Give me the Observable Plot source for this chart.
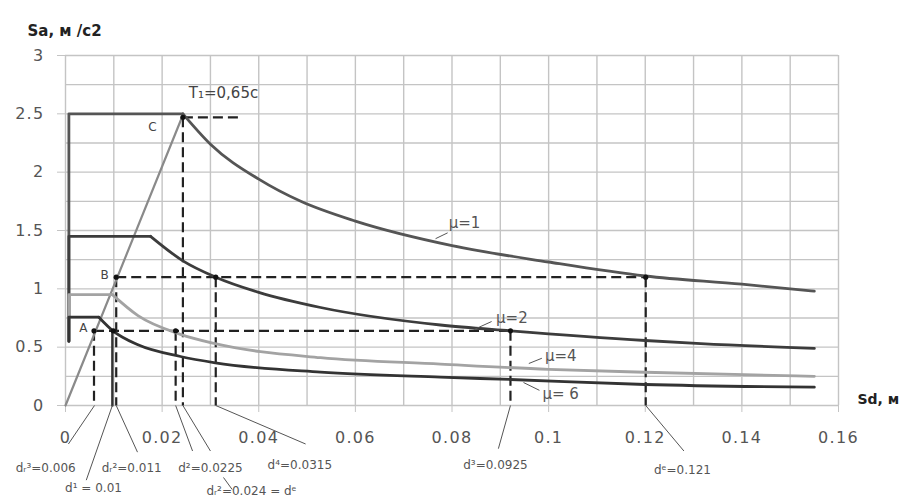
<!DOCTYPE html>
<html>
<head>
<meta charset="utf-8">
<script src="https://cdn.jsdelivr.net/npm/d3@7"></script>
<script src="https://cdn.jsdelivr.net/npm/@observablehq/plot@0.6"></script>
<style>
  html, body { margin: 0; padding: 0; background: #fff; }
  svg { display: block; }
  g[aria-label="x-axis tick label"] text, g[aria-label="y-axis tick label"] text { letter-spacing: 1.3px; }
  g[aria-label="ann"] text { letter-spacing: 0.9px; }
  g[aria-label="mu"] text, g[aria-label="tlabel"] text { letter-spacing: 0.8px; }
  g[aria-label="ytitle"] text { letter-spacing: 1.3px; }
</style>
</head>
<body>
<div id="chart"></div>
<script>
// ---- tick labels / grid ----
const xTicks = [0, 0.02, 0.04, 0.06, 0.08, 0.1, 0.12, 0.14, 0.16];
const yTicks = [0, 0.5, 1, 1.5, 2, 2.5, 3];
const gridX = [0, 0.01, 0.02, 0.03, 0.04, 0.05, 0.06, 0.07, 0.08, 0.09, 0.1, 0.11, 0.12, 0.13, 0.14, 0.15, 0.16];
const gridY = [0, 0.25, 0.5, 0.75, 1, 1.25, 1.5, 1.75, 2, 2.25, 2.5, 2.75, 3];

// ---- capacity curves (Sd, m ; Sa, m/s2); first 3 points = rise + plateau ----
const mu1Sd = [0.0007, 0.0007, 0.0243, 0.03, 0.04, 0.0487, 0.06, 0.08, 0.1, 0.12, 0.14, 0.155];
const mu1Sa = [0.55, 2.5, 2.5, 2.24, 1.94, 1.75, 1.58, 1.37, 1.23, 1.11, 1.04, 0.98];
const mu2Sd = [0.0007, 0.0007, 0.0176, 0.0243, 0.0311, 0.04, 0.0528, 0.0776, 0.0921, 0.12, 0.1315, 0.155];
const mu2Sa = [0.55, 1.45, 1.45, 1.24, 1.1, 0.97, 0.84, 0.69, 0.64, 0.557, 0.53, 0.49];
const mu4Sd = [0.0007, 0.0007, 0.0097, 0.015, 0.0238, 0.031, 0.0528, 0.0776, 0.1, 0.12, 0.155];
const mu4Sa = [0.55, 0.95, 0.95, 0.77, 0.61, 0.53, 0.41, 0.355, 0.31, 0.285, 0.25];
const mu6Sd = [0.0007, 0.0007, 0.0069, 0.0099, 0.015, 0.0238, 0.031, 0.0528, 0.0776, 0.0921, 0.12, 0.155];
const mu6Sa = [0.55, 0.757, 0.757, 0.637, 0.52, 0.42, 0.366, 0.286, 0.243, 0.223, 0.18, 0.157];

// period line T1 = 0.65 s
const periodSd = [0, 0.0243];
const periodSa = [0, 2.49];

// ---- characteristic points ----
const ptSd = [0.0243, 0.0105, 0.0311, 0.1201, 0.0059, 0.0099, 0.0228, 0.0921];
const ptSa = [2.47, 1.1, 1.1, 1.1, 0.64, 0.64, 0.64, 0.64];

// dashed construction lines
const dashFromSd = [0.0243, 0.0243, 0.0105, 0.0105, 0.0311, 0.1201, 0.0059, 0.0059, 0.0228, 0.0921];
const dashFromSa = [2.47, 2.47, 1.1, 1.1, 1.1, 1.1, 0.64, 0.64, 0.64, 0.64];
const dashToSd   = [0.0363, 0.0243, 0.1201, 0.0105, 0.0311, 0.1201, 0.0921, 0.0059, 0.0228, 0.0921];
const dashToSa   = [2.47, 0, 1.1, 0, 0, 0, 0.64, 0, 0, 0];

// solid drop line d1
const solidSd = [0.0097, 0.0097];
const solidSa = [0.637, 0];

// bottom annotations
const annText = ["dᵣ³=0.006", "d¹ = 0.01", "dᵣ²=0.011", "d²=0.0225", "dᵣ²=0.024 = dᵉ", "d⁴=0.0315", "d³=0.0925", "dᵉ=0.121"];
const annSd   = [0.006, 0.0097, 0.0105, 0.0228, 0.0243, 0.0311, 0.0921, 0.1201];
const annLabelX = [-0.0041, 0.0058, 0.0137, 0.0300, 0.0385, 0.0485, 0.0890, 0.1277];
const annLabelY = [-0.54, -0.71, -0.54, -0.54, -0.73, -0.51, -0.51, -0.55];
const annLeadX  = [0.0006, 0.0043, 0.0149, 0.0263, 0.0300, 0.0497, 0.0896, 0.1280];
const annLeadY  = [-0.33, -0.64, -0.40, -0.39, -0.39, -0.33, -0.37, -0.39];

// curve labels
const muText = ["μ=1", "μ=2", "μ=4", "μ= 6"];
const muLabelX = [0.0826, 0.0924, 0.1025, 0.1025];
const muLabelY = [1.56, 0.75, 0.42, 0.094];
const muLeadX1 = [0.0766, 0.0845, 0.0959, 0.0948];
const muLeadY1 = [1.43, 0.65, 0.36, 0.197];
const muLeadX2 = [0.0791, 0.0882, 0.0986, 0.0981];
const muLeadY2 = [1.48, 0.72, 0.405, 0.13];

// ---- build tables ----
const toPts = (xs, ys) => xs.map((x, i) => ({x, y: ys[i]}));
const curves = [
  {pts: toPts(mu1Sd, mu1Sa), color: "#555555"},
  {pts: toPts(mu2Sd, mu2Sa), color: "#3c3c3c"},
  {pts: toPts(mu4Sd, mu4Sa), color: "#a3a3a3"},
  {pts: toPts(mu6Sd, mu6Sa), color: "#333333"}
];
const points = ptSd.map((x, i) => ({x, y: ptSa[i]}));
const dashes = dashFromSd.map((x1, i) => ({x1, y1: dashFromSa[i], x2: dashToSd[i], y2: dashToSa[i]}));
const annots = annText.map((t, i) => ({t, x0: annSd[i], lx: annLabelX[i], ly: annLabelY[i], ex: annLeadX[i], ey: annLeadY[i]}));
const muLabels = muText.map((t, i) => ({t, x: muLabelX[i], y: muLabelY[i], x1: muLeadX1[i], y1: muLeadY1[i], x2: muLeadX2[i], y2: muLeadY2[i]}));
const extraLead = [{x1: 0.0327, y1: -0.617, x2: 0.0345, y2: -0.72}];

const curveMarks = curves.flatMap(c => [
  Plot.line(c.pts.slice(0, 3), {x: "x", y: "y", stroke: c.color, strokeWidth: 2.8}),
  Plot.line(c.pts.slice(2), {x: "x", y: "y", stroke: c.color, strokeWidth: 2.8, curve: "monotone-x"})
]);

const chart = Plot.plot({
  width: 909,
  height: 499,
  marginLeft: 65,
  marginRight: 71,
  marginTop: 55,
  marginBottom: 94,
  x: {domain: [0, 0.16]},
  y: {domain: [0, 3]},
  style: {fontFamily: "'DejaVu Sans', sans-serif", background: "#fff", overflow: "visible"},
  marks: [
    Plot.ruleX(gridX, {stroke: "#c4c4c4", strokeWidth: 1.4}),
    Plot.ruleY(gridY, {stroke: "#c4c4c4", strokeWidth: 1.4}),
    Plot.axisX(xTicks, {tickSize: 7, tickPadding: 19, stroke: "#c4c4c4", fill: "#555", fontSize: 16, tickFormat: d => String(d), label: null}),
    Plot.axisY(yTicks, {tickSize: 8, tickPadding: 13, stroke: "#c4c4c4", fill: "#555", fontSize: 16, tickFormat: d => String(d), label: null}),
    // construction lines
    Plot.link(dashes, {x1: "x1", y1: "y1", x2: "x2", y2: "y2", stroke: "#222", strokeWidth: 2.2, strokeDasharray: "10,5"}),
    Plot.line(toPts(solidSd, solidSa), {x: "x", y: "y", stroke: "#333", strokeWidth: 2.4}),
    // period line
    Plot.line(toPts(periodSd, periodSa), {x: "x", y: "y", stroke: "#8a8a8a", strokeWidth: 2.2}),
    // capacity curves
    ...curveMarks,
    Plot.dot(points, {x: "x", y: "y", r: 2.6, fill: "#111"}),
    // point letters
    Plot.text([{x: 0.018, y: 2.39, t: "C"}, {x: 0.0081, y: 1.114, t: "B"}, {x: 0.0037, y: 0.66, t: "A"}], {x: "x", y: "y", text: "t", fontSize: 12, fill: "#444"}),
    Plot.text([{x: 0.0327, y: 2.674, t: "T₁=0,65с"}], {x: "x", y: "y", text: "t", fontSize: 15, fill: "#444", ariaLabel: "tlabel"}),
    // mu labels
    Plot.link(muLabels, {x1: "x1", y1: "y1", x2: "x2", y2: "y2", stroke: "#555", strokeWidth: 1}),
    Plot.text(muLabels, {x: "x", y: "y", text: "t", fontSize: 15, fill: "#555", ariaLabel: "mu"}),
    // bottom annotations
    Plot.link(annots, {x1: "x0", y1: () => 0, x2: "ex", y2: "ey", stroke: "#555", strokeWidth: 1}),
    Plot.link(extraLead, {x1: "x1", y1: "y1", x2: "x2", y2: "y2", stroke: "#555", strokeWidth: 1}),
    Plot.text(annots, {x: "lx", y: "ly", text: "t", fontSize: 12, fill: "#555", ariaLabel: "ann"}),
    // axis titles
    Plot.text(["Sa, м /с2"], {frameAnchor: "top-left", dx: -38, dy: -30, textAnchor: "start", fontSize: 15, fontWeight: "bold", fill: "#222", ariaLabel: "ytitle"}),
    Plot.text(["Sd, м"], {frameAnchor: "bottom-right", dx: 19, dy: -2, textAnchor: "start", fontSize: 14, fontWeight: "bold", fill: "#222"})
  ]
});
document.getElementById("chart").appendChild(chart);
</script>
</body>
</html>
